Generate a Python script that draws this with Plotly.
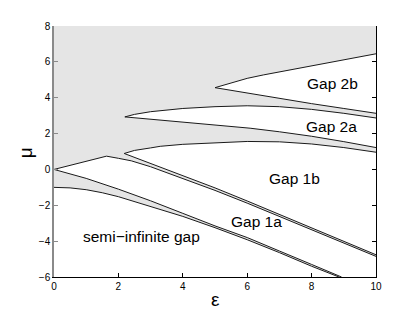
import plotly.graph_objects as go

# ---- boundary curves (epsilon, mu) ----
band0_upper_eps = [0, 1, 2, 3, 4, 4.66, 5, 6, 6.09, 7, 8, 8.93]
band0_upper_mu = [0, -0.5, -1.1, -1.75, -2.45, -2.92, -3.15, -3.8, -3.87, -4.55, -5.3, -6.0]

band0_lower_eps = [0, 0.5, 1, 1.5, 2, 3, 4, 5, 6, 7, 8, 8.85]
band0_lower_mu = [-1.0, -1.03, -1.13, -1.3, -1.52, -2.05, -2.62, -3.25, -3.92, -4.64, -5.4, -6.0]

gap1a_upper_eps = [0, 1.63, 2.0, 2.4, 3, 4, 4.69, 5, 6, 7, 8, 9, 10]
gap1a_upper_mu = [0, 0.74, 0.62, 0.48, 0.15, -0.5, -0.95, -1.17, -1.88, -2.62, -3.37, -4.1, -4.85]

gap1b_lower_eps = [2.18, 2.4, 3, 4, 5, 6, 7, 8, 9, 10]
gap1b_lower_mu = [0.89, 0.74, 0.34, -0.36, -1.03, -1.76, -2.5, -3.25, -4.0, -4.76]
gap1b_upper_eps = [2.18, 2.5, 3, 3.3, 4, 4.84, 6, 7, 8, 9, 10]
gap1b_upper_mu = [0.89, 1.06, 1.2, 1.29, 1.4, 1.48, 1.56, 1.54, 1.42, 1.22, 0.96]

gap2a_lower_eps = [2.2, 2.5, 3, 4, 4.53, 5, 6.09, 7, 8, 9, 10]
gap2a_lower_mu = [2.93, 2.88, 2.8, 2.66, 2.58, 2.5, 2.3, 2.1, 1.85, 1.55, 1.22]
gap2a_upper_eps = [2.2, 2.5, 3, 4, 5, 6, 7, 8, 9, 10]
gap2a_upper_mu = [2.93, 3.07, 3.22, 3.4, 3.5, 3.55, 3.5, 3.35, 3.13, 2.87]

gap2b_lower_eps = [5.0, 6, 7, 8, 9, 10]
gap2b_lower_mu = [4.56, 4.25, 3.95, 3.67, 3.4, 3.13]
gap2b_upper_eps = [5.0, 5.5, 6, 6.5, 7, 8, 9, 10]
gap2b_upper_mu = [4.56, 4.84, 5.08, 5.27, 5.44, 5.76, 6.1, 6.45]

labels = ["Gap 2b", "Gap 2a", "Gap 1b", "Gap 1a", "semi\u2212infinite gap"]
label_eps = [8.66, 8.63, 7.48, 6.29, 2.71]
label_mu = [4.82, 2.39, -0.51, -2.88, -3.72]

x_ticks = [0, 2, 4, 6, 8, 10]
y_ticks = [-6, -4, -2, 0, 2, 4, 6, 8]

GRAY = "#e5e5e5"
LINE = "#1a1a1a"
FONT = "Liberation Sans, Arial, sans-serif"

fig = go.Figure()

def white_poly(xs, ys):
    fig.add_trace(go.Scatter(x=xs, y=ys, mode="lines", fill="toself",
                             fillcolor="white", line=dict(width=0, color="white"),
                             hoverinfo="skip", showlegend=False))

# semi-infinite gap
white_poly([0] + band0_lower_eps + [band0_lower_eps[-1]],
           [y_ticks[0]] + band0_lower_mu + [y_ticks[0]])
# gap 1a
white_poly(gap1a_upper_eps + [10, band0_upper_eps[-1]] + band0_upper_eps[::-1],
           gap1a_upper_mu + [y_ticks[0], y_ticks[0]] + band0_upper_mu[::-1])
# gaps 1b, 2a, 2b
for le, lm, ue, um in [(gap1b_lower_eps, gap1b_lower_mu, gap1b_upper_eps, gap1b_upper_mu),
                       (gap2a_lower_eps, gap2a_lower_mu, gap2a_upper_eps, gap2a_upper_mu),
                       (gap2b_lower_eps, gap2b_lower_mu, gap2b_upper_eps, gap2b_upper_mu)]:
    white_poly(le + ue[::-1], lm + um[::-1])

# boundary lines
for xs, ys in [(band0_upper_eps, band0_upper_mu), (band0_lower_eps, band0_lower_mu),
               (gap1a_upper_eps, gap1a_upper_mu),
               (gap1b_lower_eps, gap1b_lower_mu), (gap1b_upper_eps, gap1b_upper_mu),
               (gap2a_lower_eps, gap2a_lower_mu), (gap2a_upper_eps, gap2a_upper_mu),
               (gap2b_lower_eps, gap2b_lower_mu), (gap2b_upper_eps, gap2b_upper_mu)]:
    fig.add_trace(go.Scatter(x=xs, y=ys, mode="lines", line=dict(color=LINE, width=1),
                             hoverinfo="skip", showlegend=False))

# invisible trace to anchor the right-hand axis
fig.add_trace(go.Scatter(x=[0], y=[0], yaxis="y2", mode="markers",
                         marker=dict(opacity=0), hoverinfo="skip", showlegend=False))

for t, xe, ym in zip(labels, label_eps, label_mu):
    fig.add_annotation(x=xe, y=ym, text=t, showarrow=False,
                       font=dict(family=FONT, size=15.5, color="black"),
                       xanchor="center", yanchor="middle")

fig.add_annotation(xref="paper", yref="paper", x=0.5, y=-0.09, text="\u03b5",
                   showarrow=False, font=dict(family=FONT, size=19, color="black"),
                   xanchor="center", yanchor="middle")
fig.add_annotation(xref="paper", yref="paper", x=-0.09, y=0.493, text="\u03bc",
                   showarrow=False, textangle=-90,
                   font=dict(family=FONT, size=19, color="black"),
                   xanchor="center", yanchor="middle")

# the page body adds an 8px offset, so the figure is sized to fit the window
fig.update_layout(
    width=407, height=304,
    margin=dict(l=46, r=39, t=15, b=35),
    paper_bgcolor="white", plot_bgcolor=GRAY,
    font=dict(family=FONT, size=10, color="black"),
    xaxis=dict(range=[0, 10], tickvals=x_ticks, ticks="inside", ticklen=4,
               showline=True, linecolor="black", linewidth=1, tickcolor="black",
               showgrid=False, zeroline=False, mirror=False),
    yaxis=dict(range=[-6, 8], tickvals=y_ticks, ticks="inside", ticklen=4,
               showline=True, linecolor="#8a8a8a", linewidth=1.5, tickcolor="#8a8a8a",
               showgrid=False, zeroline=False),
    yaxis2=dict(range=[-6, 8], tickvals=y_ticks, ticks="inside", ticklen=4,
                overlaying="y", side="right", showticklabels=False,
                showline=True, linecolor="black", linewidth=1, tickcolor="black",
                showgrid=False, zeroline=False),
)

fig.write_html("out.html")
